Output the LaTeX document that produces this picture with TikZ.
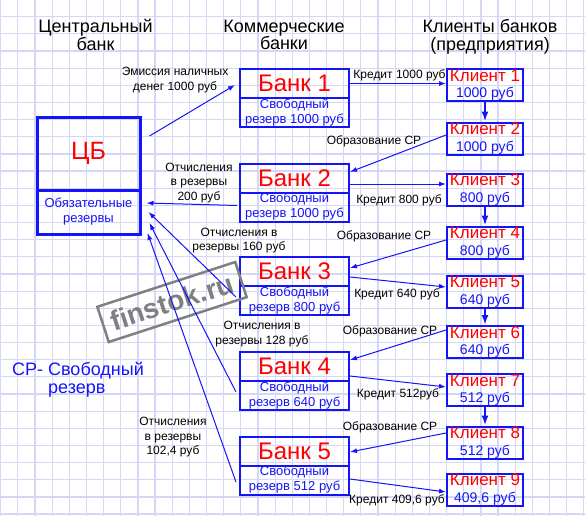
\documentclass[tikz,border=0pt]{standalone}
\usepackage{fontspec}
\setmainfont{Liberation Sans}
\usetikzlibrary{shapes, arrows.meta, positioning}
\definecolor{cbblue}{RGB}{20,20,250}
\definecolor{cbred}{RGB}{255,0,0}
\definecolor{gridcol}{RGB}{214,214,246}
\definecolor{wmgray}{RGB}{128,128,128}
\tikzstyle{every node}=[font=\fontsize{12}{14.5}\selectfont]
\tikzstyle{gridline}=[gridcol,line width=1.2pt]
\tikzstyle{title}=[align=center,inner sep=0pt,font=\fontsize{18}{17.5}\selectfont]
\tikzstyle{note}=[align=center,inner sep=0pt]
\tikzstyle{bank}=[draw=cbblue,line width=2pt,rectangle,minimum width=109pt,minimum height=29pt,inner sep=0pt,text=cbred,font=\fontsize{24}{24}\selectfont]
\tikzstyle{reserve}=[draw=cbblue,line width=2pt,rectangle,minimum width=109pt,minimum height=29pt,inner sep=0pt,align=center,text=cbblue,font=\fontsize{13}{15}\selectfont]
\tikzstyle{client}=[draw=cbblue,line width=2pt,rectangle,minimum width=76pt,minimum height=32pt,inner sep=0pt,align=center,text=cbblue,font=\fontsize{14}{16.5}\selectfont]
\tikzstyle{flow}=[->,cbblue,line width=1pt]
\tikzstyle{pass}=[-{Latex[length=10pt,width=7pt]},cbblue,line width=2pt]

\begin{document}
\begin{tikzpicture}[x=1pt,y=1pt,>={Latex[length=7pt,width=5pt]}]
  \fill[white] (0,0) rectangle (585,-516);
  \useasboundingbox (0,0) rectangle (585,-516);
  % squared paper
  \foreach \k in {0,...,34}
    \draw[gridline] ({0.7+17.15*\k},0) -- ({0.7+17.15*\k},-516);
  \foreach \k in {0,...,29}
    \draw[gridline] (0,{-16.7-17.15*\k}) -- (585,{-16.7-17.15*\k});

  % column heads
  \node[title] (tcb) at (95.5,-35) {Центральный\\банк};
  \node[title] (tkb) at (284,-35) {Коммерческие\\банки};
  \node[title] (tcl) at (490,-37) {Клиенты банков\\(предприятия)};

  % central bank
  \node[draw=cbblue,line width=3pt,minimum width=103pt,minimum height=73pt,inner sep=0pt,text=cbred,font=\fontsize{25}{25}\selectfont] (cb) at (88.5,-153.5) {ЦБ};
  \node[reserve,line width=3pt,minimum width=103pt,minimum height=44pt,below of=cb,node distance=58.5pt] (cbr) {Обязательные\\резервы};

  % commercial banks
  \node[bank] (b1) at (294.5,-83.5) {Банк 1};
  \node[reserve,below of=b1,node distance=29pt] (b1r) {Свободный\\резерв 1000 руб};
  \node[bank] (b2) at (294.5,-178) {Банк 2};
  \node[reserve,below of=b2,node distance=29pt] (b2r) {Свободный\\резерв 1000 руб};
  \node[bank] (b3) at (294.5,-271.5) {Банк 3};
  \node[reserve,below of=b3,node distance=29pt] (b3r) {Свободный\\резерв 800 руб};
  \node[bank] (b4) at (294.5,-366.5) {Банк 4};
  \node[reserve,below of=b4,node distance=29pt] (b4r) {Свободный\\резерв 640 руб};
  \node[bank] (b5) at (294.5,-451) {Банк 5};
  \node[reserve,below of=b5,node distance=29pt] (b5r) {Свободный\\резерв 512 руб};

  % clients
  \node[client] (c1) at (485,-85) {{\color{cbred}\fontsize{17}{16.5}\selectfont Клиент 1}\\1000 руб};
  \node[client] (c2) at (485,-138.5) {{\color{cbred}\fontsize{17}{16.5}\selectfont Клиент 2}\\1000 руб};
  \node[client] (c3) at (485,-189.5) {{\color{cbred}\fontsize{17}{16.5}\selectfont Клиент 3}\\800 руб};
  \node[client] (c4) at (485,-242.5) {{\color{cbred}\fontsize{17}{16.5}\selectfont Клиент 4}\\800 руб};
  \node[client] (c5) at (485,-291.5) {{\color{cbred}\fontsize{17}{16.5}\selectfont Клиент 5}\\640 руб};
  \node[client] (c6) at (485,-342) {{\color{cbred}\fontsize{17}{16.5}\selectfont Клиент 6}\\640 руб};
  \node[client] (c7) at (485,-390) {{\color{cbred}\fontsize{17}{16.5}\selectfont Клиент 7}\\512 руб};
  \node[client] (c8) at (485,-442.5) {{\color{cbred}\fontsize{17}{16.5}\selectfont Клиент 8}\\512 руб};
  \node[client] (c9) at (485,-489.5) {{\color{cbred}\fontsize{17}{16.5}\selectfont Клиент 9}\\409,6 руб};

  % labels
  \node[note] (emis) at (175,-80) {Эмиссия наличных\\денег 1000 руб};
  \node[note] (cr1) at (399.5,-75.5) {Кредит 1000 руб};
  \node[note] (sr2) at (374,-141) {Образование СР};
  \node[note] (cr3) at (399,-200) {Кредит 800 руб};
  \node[note] (sr4) at (384,-236) {Образование СР};
  \node[note] (cr5) at (397,-294) {Кредит 640 руб};
  \node[note] (sr6) at (390,-331) {Образование СР};
  \node[note] (cr7) at (398,-394) {Кредит 512руб};
  \node[note] (sr8) at (390,-427) {Образование СР};
  \node[note] (cr9) at (397,-500) {Кредит 409,6 руб};
  \node[note] (ot2) at (199,-183) {Отчисления\\в резервы\\200 руб};
  \node[note] (ot3) at (239,-240.5) {Отчисления в\\резервы 160 руб};
  \node[note] (ot4) at (262,-334) {Отчисления в\\резервы 128 руб};
  \node[note] (ot5) at (173,-437.5) {Отчисления\\в резервы\\102,4 руб};
  \node[align=left,inner sep=0pt,text=cbblue,font=\fontsize{18}{18}\selectfont] (legend) at (78,-380) {СР- Свободный\\\hphantom{СР- }резерв};

  % watermark
  \node[draw=wmgray,line width=2.5pt,text=wmgray,rotate=18,minimum width=145pt,minimum height=37pt,inner sep=0pt,font=\bfseries\fontsize{28}{28}\selectfont] (wm) at (172,-302) {finstok.ru};

  % money flows
  \draw[flow] ([shift={(8pt,17.5pt)}]cb.east) -- ([shift={(-4pt,-1.5pt)}]b1.west);
  \draw[flow] (b1.east) -- (b1.east -| c1.west);
  \draw[pass] (c1) -- (c2);
  \draw[flow] ([yshift=3.5pt]c2.west) -- ([yshift=6pt]b2.east);
  \draw[flow] ([yshift=-6pt]b2.east) -- ([yshift=-6pt]b2.east -| c3.west);
  \draw[pass] (c3) -- (c4);
  \draw[flow] ([yshift=2.5pt]c4.west) -- ([yshift=3.5pt]b3.east);
  \draw[flow] ([yshift=-5.5pt]b3.east) -- ([yshift=4.5pt]c5.west);
  \draw[pass] (c5) -- (c6);
  \draw[flow] ([yshift=12pt]c6.west) -- ([yshift=6.5pt]b4.east);
  \draw[flow] ([yshift=-9.5pt]b4.east) -- ([yshift=3pt]c7.west);
  \draw[pass] (c7) -- (c8);
  \draw[flow] ([yshift=9.5pt]c8.west) -- ([yshift=-1pt]b5.east);
  \draw[flow] ([yshift=1pt]b5r.east) -- ([yshift=-2.5pt]c9.west);

  % reserve transfers
  \draw[flow] ([shift={(-2pt,1.5pt)}]b2r.west) -- ([shift={(5pt,9pt)}]cbr.east);
  \draw[flow] ([shift={(-3pt,3.5pt)}]b3r.west) -- ([shift={(7pt,0pt)}]cbr.east);
  \draw[flow] ([shift={(-3pt,3.5pt)}]b4r.west) -- ([shift={(8pt,-11pt)}]cbr.east);
  \draw[flow] ([shift={(-3pt,-2pt)}]b5r.west) -- ([shift={(6pt,-21pt)}]cbr.east);
\end{tikzpicture}
\end{document}
